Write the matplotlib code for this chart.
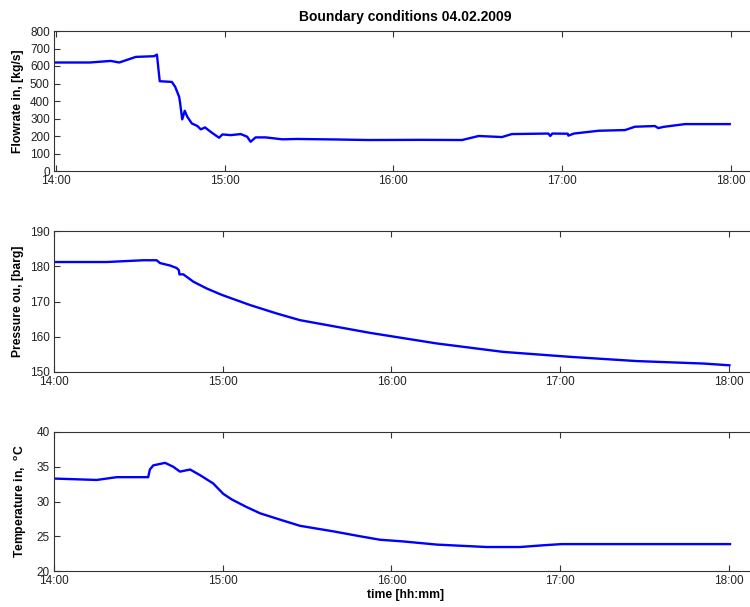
#!/usr/bin/env python3
"""
Boundary conditions 04.02.2009: flowrate in, outlet pressure, inlet temperature.
Three stacked panels, MATLAB-like look.
"""

import matplotlib
matplotlib.use("Agg")
import matplotlib.pyplot as plt

plt.rcParams["font.family"] = ["Liberation Sans", "DejaVu Sans"]
plt.rcParams["mathtext.fontset"] = "custom"
plt.rcParams["mathtext.rm"] = "Liberation Sans"
plt.rcParams["mathtext.bf"] = "Liberation Sans:bold"

# --- Data (minutes after 14:00) ---
flow_t = [0, 12, 19.5, 22.5, 28.4, 34.9, 35.9, 36.9, 41.2, 42.4, 43.8, 44.1, 44.9,
          45.8, 46.7, 48.3, 50.3, 51.5, 53, 55, 58, 59.2, 62.1, 65.7, 68, 69.2, 71,
          74.6, 80.5, 85.8, 100, 111, 130, 144.4, 150.3, 158.6, 162.1, 175.1, 175.8,
          176.5, 182, 182.2, 184.2, 193, 202.4, 205.9, 213, 214.2, 216, 223.7, 239.6]
flow_v = [620, 620, 629, 620, 652, 656, 665, 513, 509, 481, 424, 395, 295,
          344, 310, 272, 257, 238, 249, 224, 190, 209, 205, 211, 196, 167, 192,
          192, 181, 183, 180, 177, 178, 177, 200, 194, 211, 214, 200,
          214, 213, 202, 214, 230, 234, 253, 257, 245, 252, 268, 268]

pres_t = [0, 18.7, 31.7, 36.5, 37.7, 41.3, 43.6, 44.4, 44.6, 46, 49.6, 54.3, 59.6,
          69.7, 79.2, 87.5, 112.4, 136.1, 159.8, 183.5, 207.2, 230.9, 240.2]
pres_v = [181.2, 181.2, 181.7, 181.7, 180.9, 180.2, 179.5, 178.9, 177.7, 177.7,
          175.6, 173.7, 171.9, 169.0, 166.6, 164.7, 161.1, 158.1, 155.7, 154.3,
          153.1, 152.4, 151.9]

temp_t = [0, 15.2, 22.3, 33.5, 34.1, 35.3, 39.5, 42.4, 44.8, 48.4, 51.9, 56.6, 60.2,
          63.2, 68.5, 73.3, 80.3, 87.5, 99.4, 108.8, 115.9, 124.3, 136.1, 153.9,
          165.7, 174, 180.5, 240.4]
temp_v = [33.3, 33.1, 33.5, 33.5, 34.6, 35.2, 35.56, 35.0, 34.3, 34.6, 33.8, 32.6,
          31.1, 30.3, 29.2, 28.3, 27.4, 26.5, 25.7, 25.0, 24.5, 24.25, 23.8, 23.45,
          23.45, 23.7, 23.87, 23.87]

time_ticks = [0, 60, 120, 180, 240]
time_labels = ["14:00", "15:00", "16:00", "17:00", "18:00"]

# --- Figure ---
W, H = 750, 607
fig = plt.figure(figsize=(W / 100, H / 100), dpi=100)


def px_axes(left, top, right, bottom):
    return fig.add_axes([left / W, 1 - bottom / H, (right - left) / W, (bottom - top) / H])


ax1 = px_axes(54, 31, 757, 171)
ax2 = px_axes(54, 231, 757, 372)
ax3 = px_axes(54, 432, 757, 571)

panels = [
    (ax1, flow_t, flow_v, (-0.7, 249.3), (0, 800), range(0, 801, 100), "Flowrate in, [kg/s]", -0.043),
    (ax2, pres_t, pres_v, (0, 250), (150, 190), range(150, 191, 10), "Pressure ou, [barg]", -0.043),
    (ax3, temp_t, temp_v, (0, 250), (20, 40), range(20, 41, 5), r"Temperature in,  $^{\mathbf{o}}$C", -0.036),
]

for ax, t, v, xl, yl, yt, lab, lx in panels:
    ax.plot(t, v, color="#0000ff", lw=1.7)
    ax.set_xlim(*xl)
    ax.set_ylim(*yl)
    ax.set_xticks(time_ticks)
    ax.set_xticklabels(time_labels)
    ax.set_yticks(list(yt))
    ax.tick_params(direction="in", length=4.5, width=0.8, color="#333333",
                   labelsize=8.5, labelcolor="#222222", top=True, right=False, pad=3)
    for s in ax.spines.values():
        s.set_color("#333333")
        s.set_linewidth(0.8)
    ax.spines["right"].set_visible(False)
    ax.set_ylabel(lab, fontsize=8.7, fontweight="bold")
    ax.yaxis.set_label_coords(lx, 0.5)

ax1.set_title("Boundary conditions 04.02.2009", fontsize=10, fontweight="bold", pad=7)
ax3.set_xlabel("time [hh:mm]", fontsize=8.7, fontweight="bold", labelpad=1)

plt.savefig("out.png", dpi=100)
print("Saved: out.png")
plt.close()
